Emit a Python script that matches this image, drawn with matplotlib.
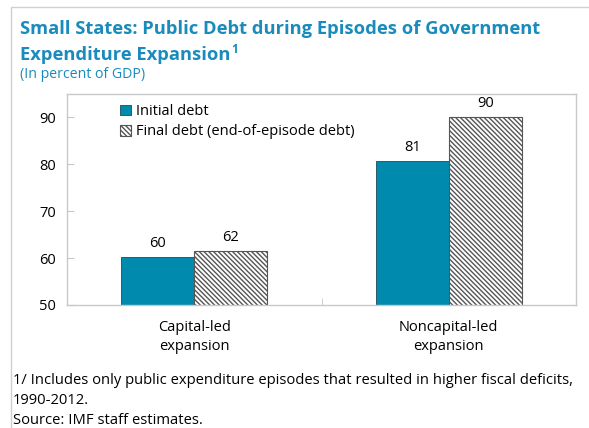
import numpy as np
import matplotlib.pyplot as plt
from matplotlib.patches import Rectangle

plt.rcParams['font.family'] = ['Open Sans', 'DejaVu Sans']
plt.rcParams['hatch.linewidth'] = 1.0

# data
categories = ['Capital-led\nexpansion', 'Noncapital-led\nexpansion']
initial_debt = [60.3, 80.7]
final_debt = [61.6, 90.2]
series_names = ['Initial debt', 'Final debt (end-of-episode debt)']
yticks = [50, 60, 70, 80, 90]

teal = '#008BAE'
title_col = '#1A8BBD'

fig = plt.figure(figsize=(5.89, 4.28), dpi=100)

# light frame round the chart
fig.patches.append(Rectangle((11/589, -0.1), 1.2, 1 - 7/428 + 0.1, transform=fig.transFigure,
                             fill=False, edgecolor='#D0D0D0', linewidth=1.0))

fig.text(20/589, 1 - 29/428, 'Small States: Public Debt during Episodes of Government',
         fontsize=13.2, fontweight='bold', color=title_col, va='center', ha='left')
t2 = fig.text(20/589, 1 - 55/428, 'Expenditure Expansion',
              fontsize=13.2, fontweight='bold', color=title_col, va='center', ha='left')
fig.text(20/589, 1 - 75/428, '(In percent of GDP)', fontsize=10.2, color=title_col,
         va='center', ha='left')

fig.text(13/589, 1 - 380/428,
         '1/ Includes only public expenditure episodes that resulted in higher fiscal deficits,',
         fontsize=10.6, va='center', ha='left')
fig.text(13/589, 1 - 400/428, '1990-2012.', fontsize=10.6, va='center', ha='left')
fig.text(13/589, 1 - 420/428, 'Source: IMF staff estimates.', fontsize=10.6,
         va='center', ha='left')

ax = fig.add_axes([67/589, 1 - 305/428, 509/589, 211/428])
ax.annotate('1', xy=(1.0, 0.42), xycoords=t2, xytext=(0.3, 0), textcoords='offset points',
            fontsize=8.5, fontweight='bold', color=title_col, va='bottom', ha='left',
            annotation_clip=False)

x = np.arange(len(categories))
w = 0.287
b1 = ax.bar(x - w/2, initial_debt, w, color=teal, edgecolor='#1F4A5A',
            linewidth=0.6, label=series_names[0])
b2 = ax.bar(x + w/2, final_debt, w, color='white', edgecolor='#555555',
            hatch='\\' * 7, linewidth=0.8, label=series_names[1])

for bars, vals in [(b1, initial_debt), (b2, final_debt)]:
    for r, v in zip(bars, vals):
        ax.text(r.get_x() + r.get_width()/2, v + 1.2, f'{v:.0f}', ha='center',
                va='bottom', fontsize=10.5)

ax.set_xlim(-0.5, 1.5)
ax.set_ylim(50, 95)
ax.set_yticks(yticks)
ax.set_xticks(x)
ax.set_xticklabels(categories, fontsize=10.5, linespacing=1.3)
ax.set_xticks([0.5], minor=True)
ax.tick_params(axis='x', which='major', length=0, pad=11)
ax.tick_params(axis='x', which='minor', length=5, direction='in', color='#C8C8C8')
ax.tick_params(axis='y', length=5, direction='in', color='#C8C8C8', labelsize=10.5, pad=8)
for s in ax.spines.values():
    s.set_color('#C8C8C8')
    s.set_linewidth(1.0)

leg = ax.legend(loc='upper left', bbox_to_anchor=(0.085, 1.0), frameon=False,
                fontsize=10.5, handlelength=0.75, handleheight=0.75,
                handletextpad=0.3, labelspacing=0.35, borderaxespad=0.3)

fig.savefig('out.png', dpi=100)
